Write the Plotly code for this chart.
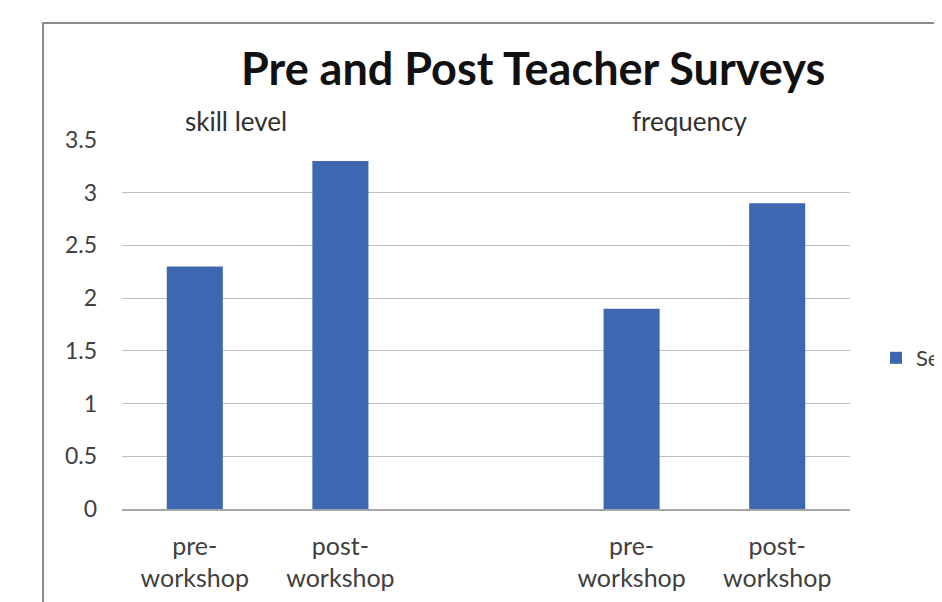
import plotly.graph_objects as go

categories = ["skill_pre", "skill_post", "gap", "freq_pre", "freq_post"]
tick_labels = ["pre-<br>workshop", "post-<br>workshop", "", "pre-<br>workshop", "post-<br>workshop"]
values = [2.3, 3.3, None, 1.9, 2.9]
group_labels = ["skill level", "frequency"]
series_name = "Series1"

OFF = 8  # page body margin
W, H = 942 - OFF, 602 - OFF
L, R, T, B = 122 - OFF, 850 - OFF, 140 - OFF, 509 - OFF
pw, ph = R - L, B - T

def px(x):
    return (x - OFF - L) / pw

def py(y):
    return (B - (y - OFF)) / ph

FONT = "Lato, Open Sans, sans-serif"

fig = go.Figure()
fig.add_trace(go.Bar(x=categories, y=values, name=series_name,
                     marker=dict(color="#3D67B1", line=dict(width=0)),
                     showlegend=True))

fig.update_layout(
    width=W, height=H,
    margin=dict(l=L, r=W - R, t=T, b=H - B, pad=0, autoexpand=False),
    paper_bgcolor="white", plot_bgcolor="white",
    bargap=0.615,
    font=dict(family=FONT, color="#404040"),
    xaxis=dict(type="category", tickmode="array", tickvals=categories, ticktext=tick_labels,
               showgrid=False, showline=True, linecolor="#A6A6A6", linewidth=1.5,
               ticks="", tickfont=dict(size=25, color="#404040"), ticklabelstandoff=14,
               automargin=False),
    yaxis=dict(range=[0, 3.5], dtick=0.5, showgrid=True, gridcolor="#BFBFBF", gridwidth=1.2,
               zeroline=False, showline=False, ticks="", tickfont=dict(size=23, color="#404040"),
               ticklabelstandoff=24, tickformat="~g", automargin=False),
    legend=dict(x=px(876), y=py(358), xanchor="left", yanchor="middle",
                font=dict(size=22, color="#404040"), bgcolor="rgba(0,0,0,0)",
                itemwidth=30),
    showlegend=True,
)

fig.add_shape(type="rect", xref="paper", yref="paper",
              x0=px(43), x1=px(960), y0=py(23), y1=py(620),
              line=dict(color="#8C8C8C", width=2), fillcolor="rgba(0,0,0,0)", layer="below")

fig.add_annotation(text="<b>Pre and Post Teacher Surveys</b>", xref="paper", yref="paper",
                   x=px(533), y=py(68), showarrow=False, xanchor="center", yanchor="middle",
                   font=dict(size=45, color="#111111"))
fig.add_annotation(text=group_labels[0], xref="paper", yref="paper",
                   x=px(236), y=py(121), showarrow=False, xanchor="center", yanchor="middle",
                   font=dict(size=26, color="#303030"))
fig.add_annotation(text=group_labels[1], xref="paper", yref="paper",
                   x=px(689), y=py(121), showarrow=False, xanchor="center", yanchor="middle",
                   font=dict(size=26, color="#303030"))

fig.write_html("out.html")
